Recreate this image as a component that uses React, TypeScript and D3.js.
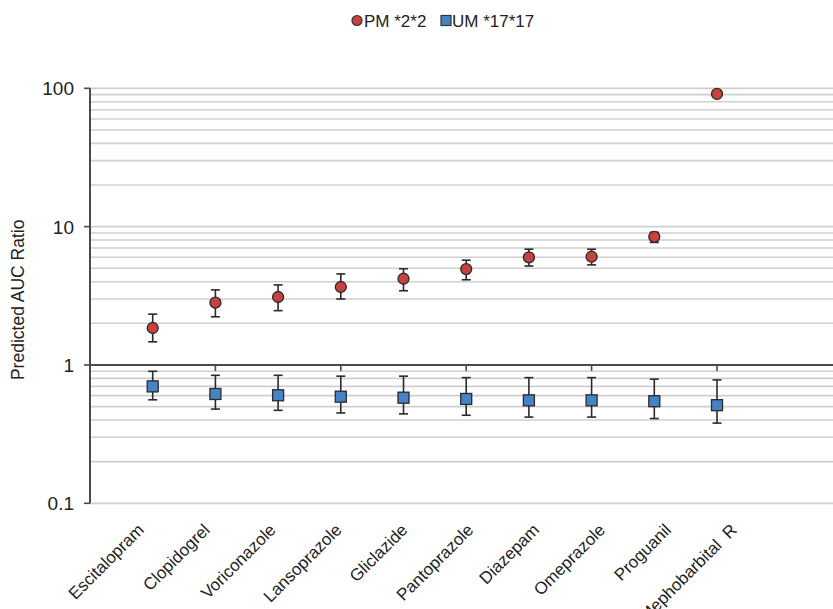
import React from "react";
import * as d3 from "d3";

const categories = ["Escitalopram", "Clopidogrel", "Voriconazole", "Lansoprazole", "Gliclazide", "Pantoprazole", "Diazepam", "Omeprazole", "Proguanil", "Mephobarbital  R"];
const pmValues = [1.85, 2.82, 3.1, 3.66, 4.2, 4.93, 6.0, 6.06, 8.44, 91];
const pmUpper = [2.33, 3.49, 3.79, 4.55, 4.96, 5.72, 6.87, 6.87, 9.1, 91];
const pmLower = [1.47, 2.23, 2.47, 3.0, 3.44, 4.13, 5.19, 5.29, 7.69, 91];
const umValues = [0.70, 0.617, 0.604, 0.59, 0.58, 0.568, 0.555, 0.555, 0.547, 0.512];
const umUpper = [0.90, 0.842, 0.842, 0.83, 0.83, 0.81, 0.81, 0.81, 0.79, 0.78];
const umLower = [0.56, 0.48, 0.47, 0.45, 0.443, 0.433, 0.42, 0.42, 0.41, 0.38];
const yTicks = [0.1, 1, 10, 100];
const xAxisTicks = [2, 4, 6, 8, 10];
const legendLabels = ["PM *2*2", "UM *17*17"];

const W = 833;
const H = 609;
const FONT = "'Liberation Sans', Arial, Helvetica, sans-serif";
const RED = "#c9413e";
const BLUE = "#4683c6";
const GRID = "#cfcfcf";
const AXIS = "#4a4a4a";

export default function App() {
  const x = d3.scaleLinear().domain([0, 11.85]).range([90, 833]);
  const y = d3.scaleLog().domain([0.1, 100]).range([503.3, 88.3]);
  // label anchors drift slightly wider than the category spacing in the reference
  const xLabel = d3.scaleLinear().domain([1, 10]).range([145, 738]);

  const minor: number[] = [];
  [0.1, 1, 10].forEach((dec) => {
    for (let k = 2; k <= 9; k++) minor.push(dec * k);
  });

  const errBar = (xi: number, lo: number, hi: number, key: string) => (
    <g key={key} stroke="#2a2a2a" strokeWidth={1.6}>
      <line x1={xi} x2={xi} y1={y(lo)} y2={y(hi)} />
      <line x1={xi - 4.5} x2={xi + 4.5} y1={y(lo)} y2={y(lo)} />
      <line x1={xi - 4.5} x2={xi + 4.5} y1={y(hi)} y2={y(hi)} />
    </g>
  );

  return (
    <svg width={W} height={H} style={{ position: "absolute", left: 0, top: 0, background: "#fff" }} fontFamily={FONT}>
      {/* legend */}
      <g>
        <circle cx={357} cy={20.5} r={5} fill={RED} stroke="#333" strokeWidth={1.2} />
        <text x={364} y={27} fontSize={17} fill="#222">{legendLabels[0]}</text>
        <rect x={441} y={15.5} width={10} height={10} fill={BLUE} stroke="#333" strokeWidth={1.2} />
        <text x={452} y={27} fontSize={17} fill="#222">{legendLabels[1]}</text>
      </g>

      {/* gridlines */}
      {minor.map((v) => (
        <line key={"m" + v} x1={90} x2={W} y1={y(v)} y2={y(v)} stroke={GRID} strokeWidth={1.6} />
      ))}
      {yTicks.map((v) => (
        <line key={"g" + v} x1={90} x2={W} y1={y(v)} y2={y(v)} stroke={GRID} strokeWidth={1.8} />
      ))}

      {/* horizontal axis at 1 */}
      <line x1={90} x2={W} y1={y(1)} y2={y(1)} stroke={AXIS} strokeWidth={2} />
      {xAxisTicks.map((t) => (
        <line key={"xt" + t} x1={x(t)} x2={x(t)} y1={y(1)} y2={y(1) + 6} stroke={AXIS} strokeWidth={1.6} />
      ))}

      {/* vertical axis */}
      <line x1={90} x2={90} y1={y(100)} y2={y(0.1)} stroke={AXIS} strokeWidth={2} />
      {yTicks.map((v) => (
        <g key={"yt" + v}>
          <line x1={84} x2={90} y1={y(v)} y2={y(v)} stroke={AXIS} strokeWidth={1.6} />
          <text x={74} y={y(v) + 7} fontSize={19} textAnchor="end" fill="#222">{v}</text>
        </g>
      ))}
      <text transform={`translate(24,${(y(100) + y(0.1)) / 2 + 4}) rotate(-90)`} fontSize={17.5} textAnchor="middle" fill="#222">Predicted AUC Ratio</text>

      {/* error bars */}
      {categories.map((c, i) => errBar(x(i + 1), pmLower[i], pmUpper[i], "pe" + i))}
      {categories.map((c, i) => errBar(x(i + 1), umLower[i], umUpper[i], "ue" + i))}

      {/* markers */}
      {categories.map((c, i) => (
        <circle key={"pm" + i} cx={x(i + 1)} cy={y(pmValues[i])} r={5.5} fill={RED} stroke="#2a2a2a" strokeWidth={1.3} />
      ))}
      {categories.map((c, i) => (
        <rect key={"um" + i} x={x(i + 1) - 5.5} y={y(umValues[i]) - 5.5} width={11} height={11} fill={BLUE} stroke="#2a2a2a" strokeWidth={1.3} />
      ))}

      {/* category labels */}
      {categories.map((c, i) => (
        <text
          key={"cl" + i}
          transform={`translate(${xLabel(i + 1)},${531}) rotate(-45)`}
          fontSize={17}
          textAnchor="end"
          fill="#222"
          style={{ whiteSpace: "pre" }}
        >
          {c}
        </text>
      ))}
    </svg>
  );
}
